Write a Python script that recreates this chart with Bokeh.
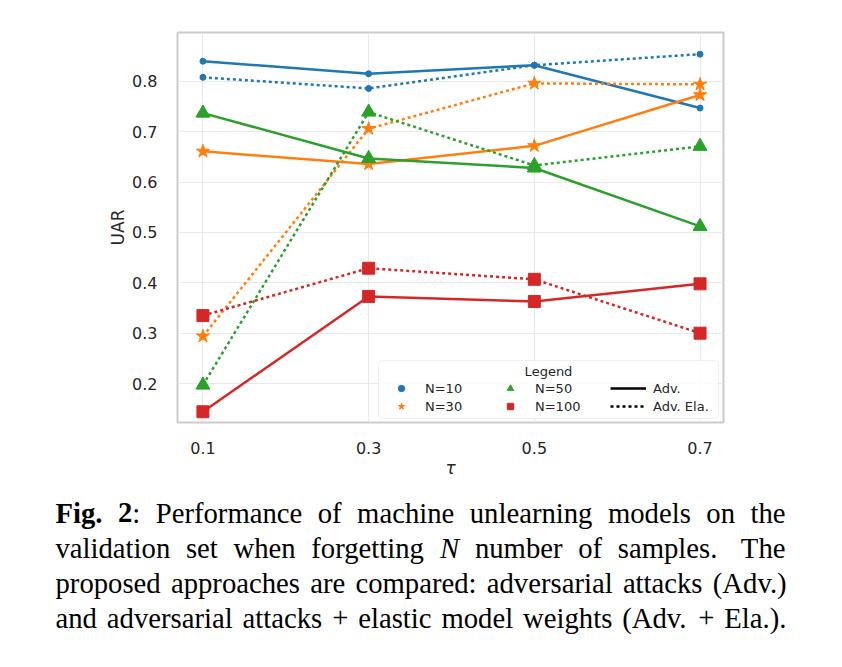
from bokeh.plotting import figure
from bokeh.models import (Range1d, FixedTicker, Legend, LegendItem, Label,
                          BoxAnnotation)
from bokeh.embed import file_html
from bokeh.resources import INLINE

# ---------------- data ----------------
taus = [0.1, 0.3, 0.5, 0.7]
x_ticks = [0.1, 0.3, 0.5, 0.7]
x_tick_labels = ["0.1", "0.3", "0.5", "0.7"]
y_ticks = [0.2, 0.3, 0.4, 0.5, 0.6, 0.7, 0.8]
y_tick_labels = ["0.2", "0.3", "0.4", "0.5", "0.6", "0.7", "0.8"]

adv_n10 = [0.840, 0.815, 0.832, 0.747]
ela_n10 = [0.808, 0.786, 0.832, 0.854]
adv_n30 = [0.661, 0.636, 0.672, 0.773]
ela_n30 = [0.294, 0.706, 0.796, 0.794]
adv_n50 = [0.737, 0.647, 0.628, 0.512]
ela_n50 = [0.197, 0.739, 0.633, 0.671]
adv_n100 = [0.144, 0.373, 0.363, 0.398]
ela_n100 = [0.335, 0.429, 0.407, 0.300]

n_labels = ["N=10", "N=30", "N=50", "N=100"]
method_labels = ["Adv.", "Adv. Ela."]

# caption: each line is a list of words, each word a list of (text, style) runs
caption_line1 = [[("Fig.", "bold")], [("2", "bold"), (":", "normal")],
                 [("Performance", "normal")], [("of", "normal")], [("machine", "normal")],
                 [("unlearning", "normal")], [("models", "normal")], [("on", "normal")],
                 [("the", "normal")]]
caption_line2 = [[("validation", "normal")], [("set", "normal")], [("when", "normal")],
                 [("forgetting", "normal")], [("N", "italic")], [("number", "normal")],
                 [("of", "normal")], [("samples.", "normal")], [("The", "normal")]]
caption_line3 = [[("proposed", "normal")], [("approaches", "normal")], [("are", "normal")],
                 [("compared:", "normal")], [("adversarial", "normal")],
                 [("attacks", "normal")], [("(Adv.)", "normal")]]
caption_line4 = [[("and", "normal")], [("adversarial", "normal")], [("attacks", "normal")],
                 [("+", "normal")], [("elastic", "normal")], [("model", "normal")],
                 [("weights", "normal")], [("(Adv.", "normal")], [("+", "normal")],
                 [("Ela.).", "normal")]]
caption_lines = [caption_line1, caption_line2, caption_line3, caption_line4]

# ---------------- styling / layout ----------------
colors = ["#1f77b4", "#ff7f0e", "#2ca02c", "#d62728"]
markers = ["circle", "star", "triangle", "square"]
msizes = [6, 14, 14, 12]
TXT = "#262626"
FONT = "DejaVu Sans"
W = 840
H1 = 480
H2 = 185

CAP_FS = 28.7
CAP_LEFT = 55
CAP_RIGHTS = [785, 785, 788, 786]
CAP_BASELINES = [32, 67, 102, 137]

# Times-compatible advance widths (per 1000 em) used to justify caption lines
_TR = {" ": 250, "(": 333, ")": 333, "+": 564, ".": 250, ":": 278, "A": 722, "E": 611,
       "N": 722, "P": 556, "T": 611, "a": 444, "b": 500, "c": 444, "d": 500, "e": 444,
       "f": 333, "g": 500, "h": 500, "i": 278, "k": 500, "l": 278, "m": 778, "n": 500,
       "o": 500, "p": 500, "r": 333, "s": 389, "t": 278, "u": 500, "v": 500, "w": 722}
_TB = {"F": 611, "i": 278, "g": 500, ".": 250, "2": 500}
_TI = {"N": 667}


def run_width(text, style):
    tab = _TB if style == "bold" else (_TI if style == "italic" else _TR)
    return sum(tab.get(ch, _TR.get(ch, 500)) for ch in text) / 1000.0 * CAP_FS


p = figure(width=W, height=H1, output_backend="svg", toolbar_location=None,
           x_range=Range1d(0.0693, 0.7283), y_range=Range1d(0.1227, 0.897),
           min_border_left=177, min_border_right=W - 723, min_border_top=32,
           min_border_bottom=H1 - 422)
p.background_fill_color = "white"
p.border_fill_color = "white"
p.outline_line_color = "#cccccc"
p.outline_line_width = 2

p.xaxis.ticker = FixedTicker(ticks=x_ticks)
p.yaxis.ticker = FixedTicker(ticks=y_ticks)
p.xaxis.major_label_overrides = {t: l for t, l in zip(x_ticks, x_tick_labels)}
p.yaxis.major_label_overrides = {t: l for t, l in zip(y_ticks, y_tick_labels)}
for ax in (p.xaxis, p.yaxis):
    ax.axis_line_color = None
    ax.major_tick_line_color = None
    ax.minor_tick_line_color = None
    ax.major_tick_out = 0
    ax.major_tick_in = 0
    ax.minor_tick_out = 0
    ax.major_label_text_font = FONT
    ax.major_label_text_font_size = "16px"
    ax.major_label_text_color = TXT
    ax.axis_label_text_font = FONT
    ax.axis_label_text_font_size = "17px"
    ax.axis_label_text_color = TXT
    ax.axis_label_text_font_style = "normal"
p.xaxis.major_label_standoff = 19
p.yaxis.major_label_standoff = 20
p.xaxis.axis_label = "τ"
p.xaxis.axis_label_text_font_style = "italic"
p.yaxis.axis_label = "UAR"
p.xaxis.axis_label_standoff = 1
p.yaxis.axis_label_standoff = 1

p.xgrid.ticker = FixedTicker(ticks=x_ticks)
p.ygrid.ticker = FixedTicker(ticks=y_ticks)
p.grid.grid_line_color = "#e9e9e9"
p.grid.grid_line_width = 1

adv = [adv_n10, adv_n30, adv_n50, adv_n100]
ela = [ela_n10, ela_n30, ela_n50, ela_n100]
marker_renderers = []
for i in range(4):
    c = colors[i]
    p.line(taus, adv[i], line_color=c, line_width=2.5)
    p.line(taus, ela[i], line_color=c, line_width=2.5, line_dash="3 3")
    r = p.scatter(taus, adv[i], marker=markers[i], size=msizes[i], fill_color=c, line_color=c)
    p.scatter(taus, ela[i], marker=markers[i], size=msizes[i], fill_color=c, line_color=c)
    marker_renderers.append(r)

# legend-only line renderers (placed off-screen)
solid_r = p.line([-1, -0.9], [-1, -1], line_color="black", line_width=2.5)
dot_r = p.line([-1, -0.9], [-1, -1], line_color="black", line_width=2.5, line_dash="3 3")

# legend frame
box = BoxAnnotation(left=201, right=541, bottom=4, top=62,
                    left_units="screen", right_units="screen",
                    bottom_units="screen", top_units="screen",
                    fill_color="white", fill_alpha=0.85,
                    line_color="#cccccc", line_width=1, border_radius=4)
p.add_layout(box)


def make_legend(items, x, y, standoff):
    leg = Legend(items=items, location=(x, y), orientation="vertical",
                 padding=0, margin=0, spacing=2, glyph_width=36, glyph_height=16,
                 label_height=16, label_standoff=standoff,
                 border_line_color=None, background_fill_alpha=0,
                 label_text_font=FONT, label_text_font_size="13px",
                 label_text_color=TXT)
    p.add_layout(leg, "center")


make_legend([LegendItem(label=n_labels[0], renderers=[marker_renderers[0]]),
             LegendItem(label=n_labels[1], renderers=[marker_renderers[1]])], 206, 8, 6)
make_legend([LegendItem(label=n_labels[2], renderers=[marker_renderers[2]]),
             LegendItem(label=n_labels[3], renderers=[marker_renderers[3]])], 315, 8, 7)
make_legend([LegendItem(label=method_labels[0], renderers=[solid_r]),
             LegendItem(label=method_labels[1], renderers=[dot_r])], 433, 8, 7)

p.add_layout(Label(x=371, y=51, x_units="screen", y_units="screen", text="Legend",
                   text_font=FONT, text_font_size="13px", text_color=TXT,
                   text_align="center", text_baseline="middle"))

# caption figure (separate root so its frame spans the full width)
cap = figure(width=W, height=H2, output_backend="svg", toolbar_location=None,
             x_range=Range1d(0, W), y_range=Range1d(H2, 0),
             x_axis_location=None, y_axis_location=None,
             min_border=0, min_border_left=0, min_border_right=0,
             min_border_top=0, min_border_bottom=0)
cap.outline_line_color = None
cap.grid.visible = False
cap.background_fill_color = "white"
cap.border_fill_color = "white"

for words, right, yb in zip(caption_lines, CAP_RIGHTS, CAP_BASELINES):
    widths = [sum(run_width(t, s) for t, s in w) for w in words]
    # sentence-ending gaps stretch more (LaTeX-like)
    weights = [1.5 if (w[-1][0].endswith(".") and w[-1][0] not in ("Fig.", "(Adv.")) else 1.0
               for w in words[:-1]]
    extra = (right - CAP_LEFT) - sum(widths)
    g = extra / sum(weights)
    x = CAP_LEFT
    for k, w in enumerate(words):
        xx = x
        for t, s in w:
            cap.add_layout(Label(x=xx, y=yb, text=t,
                                 text_font="Liberation Serif",
                                 text_font_size=f"{CAP_FS}px",
                                 text_font_style=s, text_color="black",
                                 text_align="left", text_baseline="alphabetic"))
            xx += run_width(t, s)
        if k < len(weights):
            x += widths[k] + g * weights[k]

open("out.html", "w").write(file_html([p, cap], INLINE))
